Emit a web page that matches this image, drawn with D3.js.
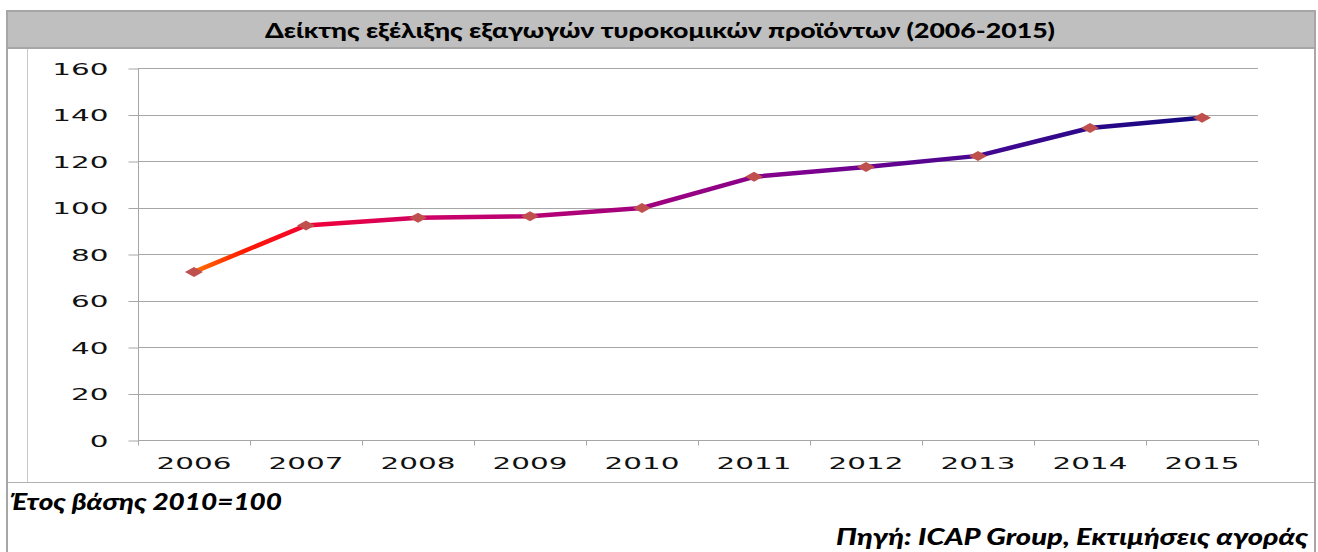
<!DOCTYPE html>
<html lang="el">
<head>
  <meta charset="UTF-8">
  <title>Δείκτης εξέλιξης εξαγωγών τυροκομικών προϊόντων</title>
  <script src="https://d3js.org/d3.v7.min.js"></script>
  <style>
    body { margin: 0; background: #fff; }
    .tick text { font-family: "DejaVu Sans", sans-serif; font-size: 16px; fill: #111; }
    .note { font-family: Lato, sans-serif; font-weight: 900; font-style: italic; font-size: 23px; fill: #000; }
  </style>
</head>
<body>
  <svg id="chart" width="1318" height="552"></svg>
  <script>
    const years = ['2006', '2007', '2008', '2009', '2010', '2011', '2012', '2013', '2014', '2015'];
    const index = [72.3, 92.3, 95.6, 96.2, 99.8, 113.2, 117.4, 122.2, 134.2, 138.6];
    const yTicks = [0, 20, 40, 60, 80, 100, 120, 140, 160];
    const titleText = 'Δείκτης εξέλιξης εξαγωγών τυροκομικών προϊόντων (2006-2015)';
    const baseNote = 'Έτος βάσης 2010=100';
    const sourceNote = 'Πηγή: ICAP Group, Εκτιμήσεις αγοράς';

    const plot = { left: 138, right: 1258, top: 68, bottom: 440 };
    const STRETCH = 1.84; // tick labels look horizontally stretched

    const svg = d3.select('#chart');

    // outer frame + title band
    svg.append('rect')
      .attr('x', 7).attr('y', 11).attr('width', 1308).attr('height', 545)
      .attr('fill', 'none').attr('stroke', '#a6a6a6').attr('stroke-width', 2);
    svg.append('rect')
      .attr('x', 8).attr('y', 12).attr('width', 1306).attr('height', 36)
      .attr('fill', '#bfbfbf');
    svg.append('line')
      .attr('x1', 7).attr('x2', 1315).attr('y1', 48).attr('y2', 48)
      .attr('stroke', '#a6a6a6').attr('stroke-width', 2);
    svg.append('line')
      .attr('x1', 27.5).attr('x2', 27.5).attr('y1', 49).attr('y2', 482)
      .attr('stroke', '#c8c8c8');
    svg.append('line')
      .attr('x1', 8).attr('x2', 1314).attr('y1', 482.5).attr('y2', 482.5)
      .attr('stroke', '#b0b0b0');

    svg.append('text')
      .attr('x', 265).attr('y', 38)
      .attr('textLength', 790).attr('lengthAdjust', 'spacingAndGlyphs')
      .style('font-family', 'Lato, sans-serif').style('font-weight', '900').style('font-size', '21px')
      .text(titleText);

    const x = d3.scaleBand().domain(years).range([plot.left, plot.right]);
    const y = d3.scaleLinear().domain([0, 160]).range([plot.bottom, plot.top]);

    // grid
    svg.append('g')
      .selectAll('line')
      .data(yTicks.filter(d => d > 0))
      .join('line')
      .attr('x1', plot.left).attr('x2', plot.right)
      .attr('y1', d => Math.round(y(d)) + 0.5).attr('y2', d => Math.round(y(d)) + 0.5)
      .attr('stroke', '#a6a6a6');

    // y axis
    const yAxis = svg.append('g')
      .attr('transform', `translate(${plot.left + 0.5},0.5)`)
      .call(d3.axisLeft(y).tickValues(yTicks).tickSize(10).tickPadding(0));
    yAxis.select('.domain').attr('stroke', '#a6a6a6').attr('d', `M0,${plot.top}V${plot.bottom}`);
    yAxis.selectAll('.tick line').attr('stroke', '#a6a6a6');
    yAxis.selectAll('.tick text')
      .attr('x', -30 / STRETCH)
      .attr('dy', '0.36em')
      .attr('transform', `scale(${STRETCH},1)`);

    // x axis
    const xAxis = svg.append('g')
      .attr('transform', `translate(0,${plot.bottom + 0.5})`)
      .call(d3.axisBottom(x).tickSize(5).tickFormat(''));
    xAxis.select('.domain').attr('stroke', '#a6a6a6').attr('d', `M${plot.left},0H${plot.right}`);
    xAxis.selectAll('.tick').remove();
    const edges = years.map(d => x(d)).concat([plot.right]);
    xAxis.selectAll('line.edge')
      .data(edges)
      .join('line')
      .attr('class', 'edge')
      .attr('x1', d => Math.round(d) + 0.5).attr('x2', d => Math.round(d) + 0.5)
      .attr('y1', 0).attr('y2', 5)
      .attr('stroke', '#a6a6a6');
    xAxis.selectAll('g.lab')
      .data(years)
      .join('g')
      .attr('class', 'tick lab')
      .attr('transform', d => `translate(${x(d) + x.bandwidth() / 2},0)`)
      .append('text')
      .attr('y', 29)
      .attr('text-anchor', 'middle')
      .attr('transform', `scale(${STRETCH},1)`)
      .text(d => d);

    // gradient line
    const cx = (d, i) => x(years[i]) + x.bandwidth() / 2;
    const defs = svg.append('defs');
    const grad = defs.append('linearGradient')
      .attr('id', 'lineGrad')
      .attr('gradientUnits', 'userSpaceOnUse')
      .attr('x1', cx(null, 0)).attr('x2', cx(null, years.length - 1))
      .attr('y1', 0).attr('y2', 0);
    const stops = [
      [0, '#ff7000'], [0.05, '#ff1a00'], [0.12, '#f0003a'], [0.25, '#c8006a'],
      [0.45, '#a0007f'], [0.62, '#7a0090'], [0.8, '#3f0890'], [1, '#140880']
    ];
    grad.selectAll('stop').data(stops).join('stop')
      .attr('offset', d => d[0]).attr('stop-color', d => d[1]);

    const line = d3.line().x(cx).y(d => y(d));
    svg.append('path')
      .datum(index)
      .attr('d', line)
      .attr('fill', 'none')
      .attr('stroke', 'url(#lineGrad)')
      .attr('stroke-width', 4.5)
      .attr('stroke-linejoin', 'round');

    // diamond markers
    svg.append('g')
      .selectAll('path')
      .data(index)
      .join('path')
      .attr('transform', (d, i) => `translate(${cx(d, i)},${y(d)})`)
      .attr('d', 'M-9,0L0,-5L9,0L0,5Z')
      .attr('fill', '#c0504d');

    // notes
    svg.append('text').attr('class', 'note')
      .attr('x', 10).attr('y', 510)
      .attr('textLength', 272).attr('lengthAdjust', 'spacingAndGlyphs')
      .text(baseNote);
    svg.append('text').attr('class', 'note')
      .attr('x', 836).attr('y', 545)
      .attr('textLength', 472).attr('lengthAdjust', 'spacingAndGlyphs')
      .text(sourceNote);
  </script>
</body>
</html>
